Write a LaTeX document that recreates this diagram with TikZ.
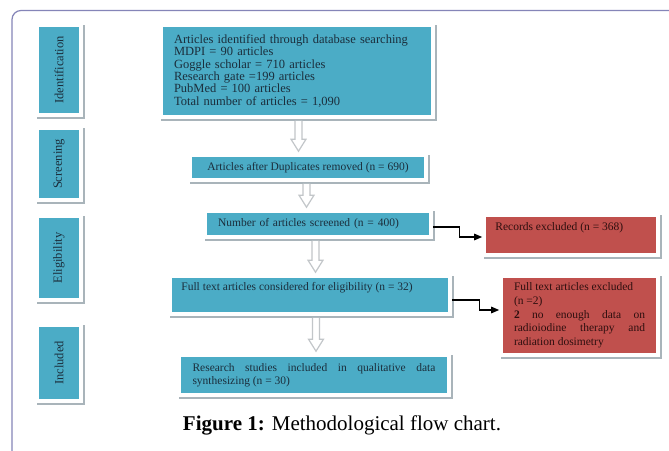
\documentclass[tikz,border=0pt]{standalone}
\usepackage{fontspec}
\setmainfont{Liberation Serif}
\usepackage{graphicx}
\usetikzlibrary{calc,arrows.meta}
\definecolor{tealc}{HTML}{4BACC6}
\definecolor{redc}{HTML}{C0504D}
\definecolor{tealtxt}{HTML}{1B2E3C}
\definecolor{redtxt}{HTML}{2E0F0F}
\definecolor{shadowc}{HTML}{A9B4BA}
\definecolor{edgec}{HTML}{D3D7DA}
\definecolor{framec}{HTML}{8585B8}
\definecolor{arrowedge}{HTML}{C2C6C9}
\newcommand\boxf{\fontsize{11.5}{13}\selectfont}
\newcommand\topf{\fontsize{12.5}{12.3}\selectfont}
\newcommand\redf{\fontsize{11.5}{13.7}\selectfont}
\newcommand\lblf{\fontsize{12.5}{14}\selectfont}
\newcommand\capf{\fontsize{21}{24}\selectfont}
\hyphenpenalty=10000
\exhyphenpenalty=10000
\tolerance=10000
\hbadness=10000
\tikzset{
  box/.style={rectangle, inner sep=0pt, draw=white, line width=3.6pt,
    preaction={draw=shadowc, fill=shadowc, line width=4pt,
      transform canvas={shift={(2.2pt,-2.2pt)}}},
    preaction={draw=edgec, line width=4.8pt}},
  tealbox/.style={box, fill=tealc, text=tealtxt, font=\boxf},
  redbox/.style={box, fill=redc, text=redtxt, font=\redf},
  tealtext/.style={text=tealtxt, font=\boxf, inner sep=0pt},
  redtext/.style={text=redtxt, font=\boxf, inner sep=0pt},
  barrow/.style={fill=white, draw=arrowedge, line width=1.2pt, line join=miter},
  conn/.style={draw=black, line width=1.3pt, -{Triangle[length=8pt,width=6.5pt]}},
}
\newcommand\blockarr[3]{%
  \path (#1 |- #2.south) coordinate (ba-s) (#1 |- #3.north) coordinate (ba-e);
  \filldraw[barrow] ($(ba-s)+(-3.5,2)$) -- ($(ba-e)+(-3.5,-14)$) -- ($(ba-e)+(-7.5,-14)$)
    -- ($(ba-e)+(0,-2)$) -- ($(ba-e)+(7.5,-14)$) -- ($(ba-e)+(3.5,-14)$) -- ($(ba-s)+(3.5,2)$);}
\begin{document}
\begin{tikzpicture}[x=1pt,y=-1pt]
\useasboundingbox (0,0) rectangle (669,450);
\clip (0,0) rectangle (669,450);
\fill[white] (0,0) rectangle (669,450);
\draw[framec, line width=1.2pt, rounded corners=9pt] (700,10.5) -- (12,10.5) -- (12,480);

% stage labels
\node[tealbox, minimum width=44pt, minimum height=90pt, font=\lblf] (lid) at (59,70) {\rotatebox{90}{Identification}};
\node[tealbox, minimum width=44pt, minimum height=72pt, font=\lblf] (lsc) at (59,164) {\rotatebox{90}{Screening}};
\node[tealbox, minimum width=44pt, minimum height=84pt, font=\lblf] (lel) at (59,258) {\rotatebox{90}{Eligibility}};
\node[tealbox, minimum width=44pt, minimum height=76pt, font=\lblf] (lin) at (59,363) {\rotatebox{90}{Included}};

% main flow
\node[tealbox, minimum width=272pt, minimum height=92pt, text width=246pt, align=left, font=\topf] (top) at (297,71)
  {Articles identified through database searching\\ MDPI = 90 articles\\ Goggle scholar = 710 articles\\ Research gate =199 articles\\ PubMed = 100 articles\\ Total number of articles = 1,090};
\node[tealbox, minimum width=236pt, minimum height=25pt] (dup) at (308,167.5) {Articles after Duplicates removed (n = 690)};
\node[tealbox, minimum width=226pt, minimum height=26pt, text width=200pt, align=left] (scr) at (318,224) {Number of articles screened (n = 400)};
\node[redbox, minimum width=174pt, minimum height=40pt] (rec) at (571,235) {};
\node[redtext, anchor=base west] (rect) at ([xshift=13pt,yshift=-17.5pt]rec.north west) {Records excluded (n = 368)};
\node[tealbox, minimum width=280pt, minimum height=38pt] (ft) at (310,295) {};
\node[tealtext, anchor=base west] (ftt) at ([xshift=13pt,yshift=-16.5pt]ft.north west) {Full text articles considered for eligibility (n = 32)};
\node[redbox, minimum width=157pt, minimum height=79pt, text width=131pt, align=justify] (fte) at (579.5,315.5)
  {Full text articles excluded\\ (n =2)\\ \textbf{2} no enough data on radioiodine therapy and radiation dosimetry};
\node[tealbox, minimum width=270pt, minimum height=40pt, text width=243pt, align=justify] (res) at (314,375)
  {Research studies included in qualitative data synthesizing (n = 30)};

% block arrows
\coordinate (ax1) at (298.5,0);
\coordinate (ax2) at (306.5,0);
\coordinate (ax3) at (315.5,0);
\coordinate (ax4) at (316,0);
\blockarr{ax1}{top}{dup}
\blockarr{ax2}{dup}{scr}
\blockarr{ax3}{scr}{ft}
\blockarr{ax4}{ft}{res}

% exclusion connectors
\draw[conn] ([yshift=-3pt]scr.east) -- ++(27,0) |- ([yshift=-2pt]rec.west);
\draw[conn] ([yshift=-5pt]ft.east) -- ++(28,0) |- ([yshift=5.5pt]fte.west);

% caption
\node[font=\capf, text=black] (cap) at (342,425) {\textbf{Figure 1:} Methodological flow chart.};
\end{tikzpicture}
\end{document}
